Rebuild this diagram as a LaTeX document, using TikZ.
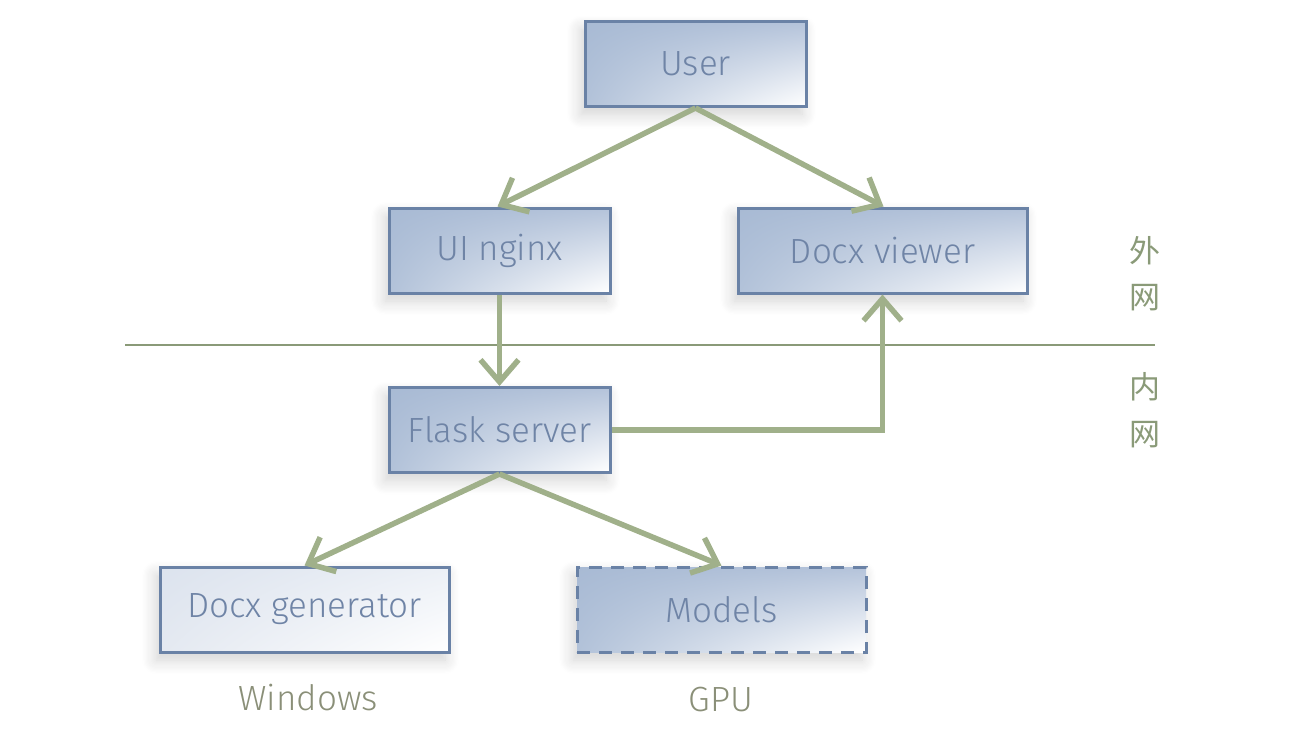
\documentclass[tikz,border=0pt]{standalone}
\usepackage{fontspec}
\setmainfont{Fira Sans Light}
\newfontfamily\cjk{Noto Sans CJK SC}
\usetikzlibrary{arrows.meta,shadows.blur,shadings}
\definecolor{boxborder}{HTML}{6A82A6}
\definecolor{boxtext}{HTML}{6F84A6}
\definecolor{arrowgreen}{HTML}{A0B08A}
\definecolor{linegreen}{HTML}{8A9A78}
\definecolor{labelgray}{HTML}{8A8F78}
\definecolor{bUL}{HTML}{A8BAD4}
\definecolor{bUR}{HTML}{B4C3DA}
\definecolor{bLL}{HTML}{B2C2D9}
\definecolor{lUL}{HTML}{DCE3EE}
\definecolor{lUR}{HTML}{ECF0F6}
\definecolor{lLL}{HTML}{E4E9F1}
\tikzset{
  box/.style={draw=boxborder, line width=3pt, minimum width=221pt, minimum height=85pt,
    upper left=bUL, upper right=bUR, lower left=bLL, lower right=white,
    text=boxtext, font=\fontsize{35}{40}\selectfont, inner sep=0pt,
    blur shadow={shadow xshift=-4pt, shadow yshift=-8pt, shadow blur steps=12, shadow opacity=18, shadow blur radius=14pt}},
  widebox/.style={box, minimum width=289pt},
  lightbox/.style={upper left=lUL, upper right=lUR, lower left=lLL, lower right=white},
  conn/.style={draw=arrowgreen, line width=5.5pt, -{Straight Barb[length=22pt, width=38pt, line width=5.5pt]}},
  net/.style={text=linegreen, font=\cjk\fontsize{31}{36}\selectfont},
  sub/.style={text=labelgray, font=\fontsize{35}{40}\selectfont}
}
\begin{document}
\begin{tikzpicture}[x=1pt,y=-1pt]
\useasboundingbox (0,0) rectangle (1291,744);
\node[box] (user) at (695.5,64) {User};
\node[box] (nginx) at (499.5,250.5) {UI nginx};
\node[widebox] (viewer) at (882.5,250.5) {Docx viewer};
\node[box] (flask) at (499.5,430) {Flask server};
\node[widebox,lightbox] (gen) at (304.5,609.5) {Docx generator};
\node[widebox,dashed,dash pattern=on 13pt off 9pt] (models) at (721.5,609.5) {Models};
\coordinate (l1) at (125,345);
\coordinate (l2) at (1155,345);
\draw[linegreen, line width=2.5pt] (l1) -- (l2);
\node[net] (w1) at (1145,251) {外};
\node[net] (w2) at (1145,298) {网};
\node[net] (n1) at (1145,387) {内};
\node[net] (n2) at (1145,435) {网};
\node[sub] (win) at (308,698) {Windows};
\node[sub] (gpu) at (721,700) {GPU};
\draw[conn] (user.south) -- ([xshift=-2pt]nginx.north);
\draw[conn] (user.south) -- ([xshift=1pt]viewer.north);
\draw[conn] (nginx.south) -- (flask.north);
\draw[conn] (flask.east) -- (flask.east -| viewer.south) -- (viewer.south);
\draw[conn] (flask.south) -- (gen.north);
\draw[conn] (flask.south) -- (models.north);
\end{tikzpicture}
\end{document}
